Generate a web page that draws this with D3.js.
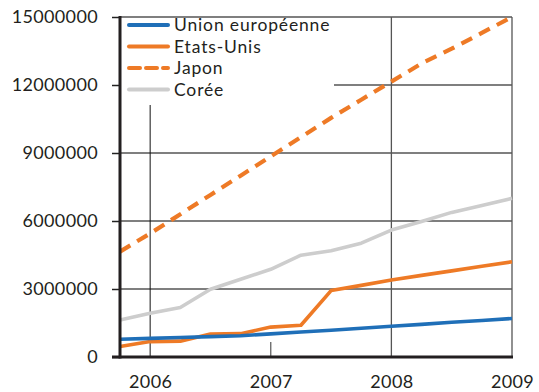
<!DOCTYPE html>
<html>
<head>
<meta charset="utf-8">
<script src="https://cdn.jsdelivr.net/npm/d3@7"></script>
<style>
  html, body { margin: 0; padding: 0; background: #fff; }
  svg { display: block; }
  text { font-family: Lato, "Noto Sans", sans-serif; fill: #231f20; }
</style>
</head>
<body>
<svg id="chart" width="539" height="392"></svg>
<script>
// Quarterly observations, Q4 2005 to Q4 2009 (expressed as fractional years)
const periods = [2005.75, 2006, 2006.25, 2006.5, 2006.75, 2007, 2007.25, 2007.5, 2007.75, 2008, 2008.25, 2008.5, 2008.75, 2009];

const unionEuropeenne = [780000, 820000, 860000, 900000, 940000, 1020000, 1100000, 1180000, 1270000, 1360000, 1440000, 1530000, 1610000, 1700000];
const etatsUnis       = [460000, 680000, 700000, 1010000, 1030000, 1320000, 1400000, 2930000, 3160000, 3400000, 3600000, 3800000, 4000000, 4200000];
const japon           = [4650000, 5450000, 6300000, 7150000, 8000000, 8850000, 9700000, 10550000, 11350000, 12150000, 12950000, 13600000, 14300000, 15000000];
const coree           = [1630000, 1930000, 2180000, 2990000, 3430000, 3870000, 4490000, 4690000, 5020000, 5600000, 5980000, 6380000, 6680000, 7000000];

const yearTicks  = [2006, 2007, 2008, 2009];
const valueTicks = [0, 3000000, 6000000, 9000000, 12000000, 15000000];

const seriesNames = ["Union européenne", "Etats-Unis", "Japon", "Corée"];

const series = [
  { name: seriesNames[0], values: unionEuropeenne, color: "#1f6fb8", dash: null },
  { name: seriesNames[1], values: etatsUnis,       color: "#ee7a26", dash: null },
  { name: seriesNames[2], values: japon,           color: "#ee7a26", dash: "12,8" },
  { name: seriesNames[3], values: coree,           color: "#cdcdcd", dash: null }
];

const FONT = "Lato, 'Noto Sans', sans-serif";
const svg = d3.select("#chart");
const plotLeft = 120, plotRight = 512, plotTop = 17, plotBottom = 357;

const x = d3.scaleLinear().domain([2005.75, 2009]).range([plotLeft, plotRight]);
const y = d3.scaleLinear().domain([0, 15000000]).range([plotBottom, plotTop]);

const grid = svg.append("g");
const gridColor = "#555";

// Horizontal grid lines (the 12M line stops short of the legend)
valueTicks.filter(v => v > 0).forEach(v => {
  const x0 = v === 12000000 ? 334 : plotLeft;
  grid.append("line")
    .attr("x1", x0).attr("x2", plotRight)
    .attr("y1", y(v)).attr("y2", y(v))
    .attr("stroke", gridColor).attr("stroke-width", 1.3);
});

// Vertical guides per year
grid.append("line") // 2006, below the legend
  .attr("x1", x(2006)).attr("x2", x(2006))
  .attr("y1", 105).attr("y2", plotBottom)
  .attr("stroke", "#111").attr("stroke-width", 1);
grid.append("line") // 2007, short tick only
  .attr("x1", x(2007)).attr("x2", x(2007))
  .attr("y1", plotBottom - 15).attr("y2", plotBottom)
  .attr("stroke", gridColor).attr("stroke-width", 1.2);
[2008, 2009].forEach(yr => {
  grid.append("line")
    .attr("x1", x(yr)).attr("x2", x(yr))
    .attr("y1", plotTop).attr("y2", plotBottom)
    .attr("stroke", gridColor).attr("stroke-width", 1.3);
});

// Y axis with outward ticks
const yAxis = svg.append("g")
  .attr("transform", `translate(${plotLeft},0)`)
  .call(d3.axisLeft(y).tickValues(valueTicks).tickSize(8).tickPadding(14).tickFormat(d3.format("d")));
yAxis.select(".domain").remove();
yAxis.selectAll(".tick line").attr("stroke", "#222").attr("stroke-width", 1.5);
yAxis.selectAll(".tick text")
  .style("font-family", FONT)
  .style("letter-spacing", "0.35px")
  .attr("font-size", 18).attr("fill", "#231f20");

// X axis labels
const xAxis = svg.append("g")
  .attr("transform", `translate(0,${plotBottom})`)
  .call(d3.axisBottom(x).tickValues(yearTicks).tickSize(0).tickPadding(18).tickFormat(d3.format("d")));
xAxis.select(".domain").remove();
xAxis.selectAll(".tick text")
  .style("font-family", FONT)
  .style("letter-spacing", "0.35px")
  .attr("font-size", 18).attr("fill", "#231f20");

// Data lines
const line = d3.line()
  .x((d, i) => x(periods[i]))
  .y(d => y(d));

series.slice().reverse().forEach(s => {
  svg.append("path")
    .datum(s.values)
    .attr("d", line)
    .attr("fill", "none")
    .attr("stroke", s.color)
    .attr("stroke-width", s.dash ? 4.2 : 3.6)
    .attr("stroke-dasharray", s.dash)
    .attr("stroke-linejoin", "round");
});

// Axis lines
svg.append("line")
  .attr("x1", plotLeft).attr("x2", plotLeft).attr("y1", plotTop - 1).attr("y2", plotBottom + 1.5)
  .attr("stroke", "#231f20").attr("stroke-width", 3);
svg.append("line")
  .attr("x1", plotLeft - 8).attr("x2", plotRight + 1).attr("y1", plotBottom).attr("y2", plotBottom)
  .attr("stroke", "#231f20").attr("stroke-width", 3);

// Legend
const legend = svg.append("g");
legend.append("rect")
  .attr("x", plotLeft + 2).attr("y", plotTop + 1.5)
  .attr("width", 334 - plotLeft - 2).attr("height", 105 - plotTop - 1.5)
  .attr("fill", "#fff");
series.forEach((s, i) => {
  const ly = 25 + i * 21.5;
  legend.append("line")
    .attr("x1", 129).attr("x2", 168).attr("y1", ly).attr("y2", ly)
    .attr("stroke", s.color).attr("stroke-width", 4)
    .attr("stroke-dasharray", s.dash ? "11,6" : null)
    .attr("stroke-linecap", "round");
  legend.append("text")
    .attr("x", 174).attr("y", ly)
    .attr("dy", "0.36em")
    .style("font-family", FONT)
    .style("letter-spacing", "0.85px")
    .attr("font-size", 17.5)
    .text(s.name);
});
</script>
</body>
</html>
